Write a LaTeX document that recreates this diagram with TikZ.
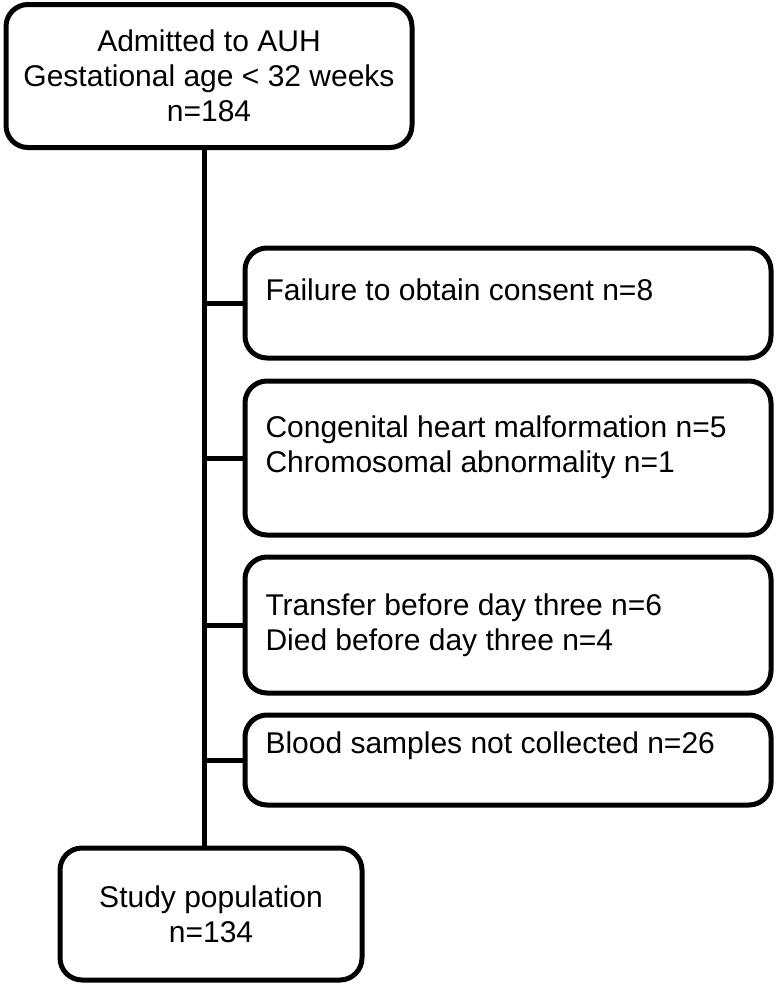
\documentclass[tikz,border=0pt]{standalone}
\usepackage{fontspec}
\setmainfont{Liberation Sans}

\begin{document}
\begin{tikzpicture}[x=1pt,y=-1pt,line width=5pt,
  box/.style={draw,rounded corners=22pt,inner sep=0pt,align=center,font=\fontsize{30}{35}\selectfont},
  boxtext/.style={anchor=west,inner sep=0pt,align=left,font=\fontsize{30}{35}\selectfont}]
\useasboundingbox (0,0) rectangle (782,985);

\node[box,minimum width=406pt,minimum height=143pt] (admitted) at (209,76) {Admitted to AUH\\Gestational age < 32 weeks\\n=184};

\node[box,minimum width=526pt,minimum height=110pt] (consent) at (508,303) {};
\node[boxtext] (consenttext) at (263,290) {Failure to obtain consent n=8};

\node[box,minimum width=526pt,minimum height=154pt] (malformation) at (508,458) {};
\node[boxtext] (malformationtext) at (263,447) {Congenital heart malformation n=5\\Chromosomal abnormality n=1};

\node[box,minimum width=526pt,minimum height=136pt] (exitearly) at (508,625) {};
\node[boxtext] (exitearlytext) at (263,625) {Transfer before day three n=6\\Died before day three n=4};

\node[box,minimum width=526pt,minimum height=90pt] (nosample) at (508,760) {};
\node[boxtext] (nosampletext) at (263,746) {Blood samples not collected n=26};

\node[box,minimum width=302pt,minimum height=132pt] (study) at (211,914) {Study population\\n=134};

\coordinate (spine) at (204,0);
\draw (admitted.south -| spine) -- (study.north -| spine);
\draw (spine |- consent.west) -- (consent.west);
\draw (spine |- malformation.west) -- (malformation.west);
\draw (spine |- exitearly.west) -- (exitearly.west);
\draw (spine |- nosample.west) -- (nosample.west);
\end{tikzpicture}
\end{document}
